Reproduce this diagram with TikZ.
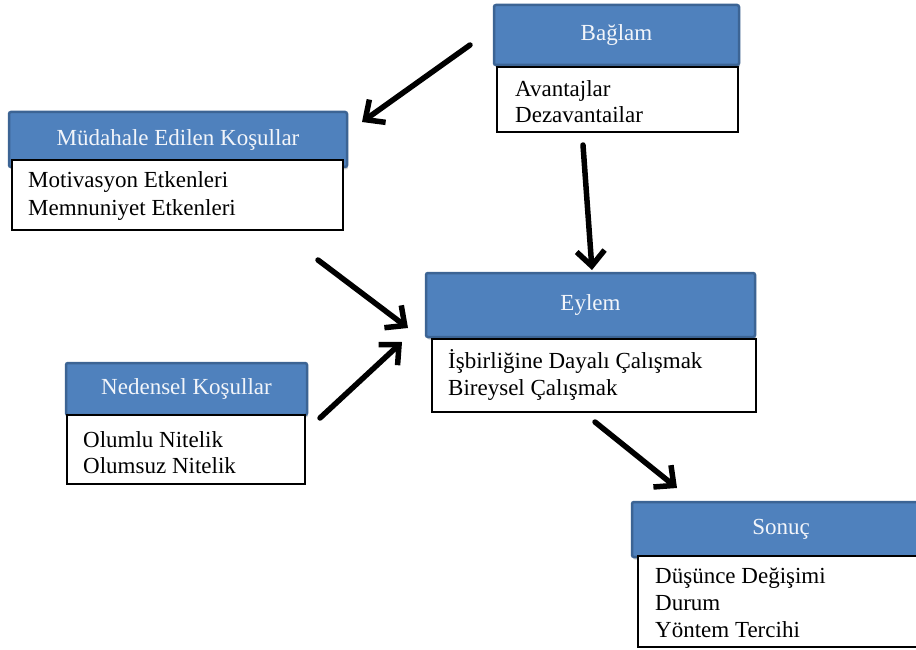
\documentclass[tikz,border=0pt]{standalone}
\usepackage{fontspec}
\setmainfont{Liberation Serif}
\usetikzlibrary{arrows.meta,shadows,calc}
\definecolor{hdrfill}{HTML}{4F81BD}
\definecolor{hdrline}{HTML}{3C6494}
\definecolor{hdrtext}{HTML}{F2F5FA}
\begin{document}
\begin{tikzpicture}[x=1pt,y=-1pt,
  hdr/.style={fill=hdrfill, draw=hdrline, line width=2.5pt, rounded corners=2pt,
    text=hdrtext, font=\fontsize{23}{27}\selectfont, inner sep=0pt,
    drop shadow={shadow xshift=1pt, shadow yshift=-2.5pt, opacity=0.35}},
  body/.style={fill=white, draw=black, line width=1.5pt, inner sep=0pt},
  item/.style={anchor=base west, inner sep=0pt, font=\fontsize{23}{27}\selectfont},
  flow/.style={line width=5.5pt, line cap=round, -{Straight Barb[length=15pt,width=28pt]}}]
\useasboundingbox (0,0) rectangle (916,650);
\clip (0,0) rectangle (916,650);
\fill[white] (0,0) rectangle (916,650);

% Bağlam
\node[hdr, minimum width=245pt, minimum height=60pt] (h1) at (616.5,35) {Bağlam};
\node[body, minimum width=241pt, minimum height=65pt] (b1) at (617.5,99.5) {};
\node[item] (t1a) at (515,97) {Avantajlar};
\node[item] (t1b) at (515,123) {Dezavantailar};

% Müdahale Edilen Koşullar
\node[hdr, minimum width=338pt, minimum height=55pt] (h2) at (178,139.5) {Müdahale Edilen Koşullar};
\node[body, minimum width=331pt, minimum height=70pt] (b2) at (177.5,195) {};
\node[item] (t2a) at (28,188) {Motivasyon Etkenleri};
\node[item] (t2b) at (28,215) {Memnuniyet Etkenleri};

% Eylem
\node[hdr, minimum width=329pt, minimum height=64pt] (h3) at (590.5,305) {Eylem};
\node[body, minimum width=324pt, minimum height=73pt] (b3) at (594,375.5) {};
\node[item] (t3a) at (448,368) {İşbirliğine Dayalı Çalışmak};
\node[item] (t3b) at (448,395) {Bireysel Çalışmak};

% Nedensel Koşullar
\node[hdr, minimum width=241pt, minimum height=52pt] (h4) at (186.5,389) {Nedensel Koşullar};
\node[body, minimum width=238pt, minimum height=69pt] (b4) at (186,449.5) {};
\node[item] (t4a) at (83,447) {Olumlu Nitelik};
\node[item] (t4b) at (83,473) {Olumsuz Nitelik};

% Sonuç
\node[hdr, minimum width=298pt, minimum height=55pt] (h5) at (781,529.5) {Sonuç};
\node[body, minimum width=292pt, minimum height=91pt] (b5) at (784,601.5) {};
\node[item] (t5a) at (655,583) {Düşünce Değişimi};
\node[item] (t5b) at (655,610) {Durum};
\node[item] (t5c) at (655,637) {Yöntem Tercihi};

% arrow end points
\coordinate (a1s) at (470,45);  \coordinate (a1e) at (362,122);
\coordinate (a2s) at (583,145); \coordinate (a2e) at (592,270);
\coordinate (a3s) at (318,260); \coordinate (a3e) at (408,328);
\coordinate (a4s) at (320,418); \coordinate (a4e) at (402,342);
\coordinate (a5s) at (595,422); \coordinate (a5e) at (677,488);

\draw[flow] (a1s) -- (a1e);
\draw[flow] (a2s) -- (a2e);
\draw[flow] (a3s) -- (a3e);
\draw[flow] (a4s) -- (a4e);
\draw[flow] (a5s) -- (a5e);
\end{tikzpicture}
\end{document}
